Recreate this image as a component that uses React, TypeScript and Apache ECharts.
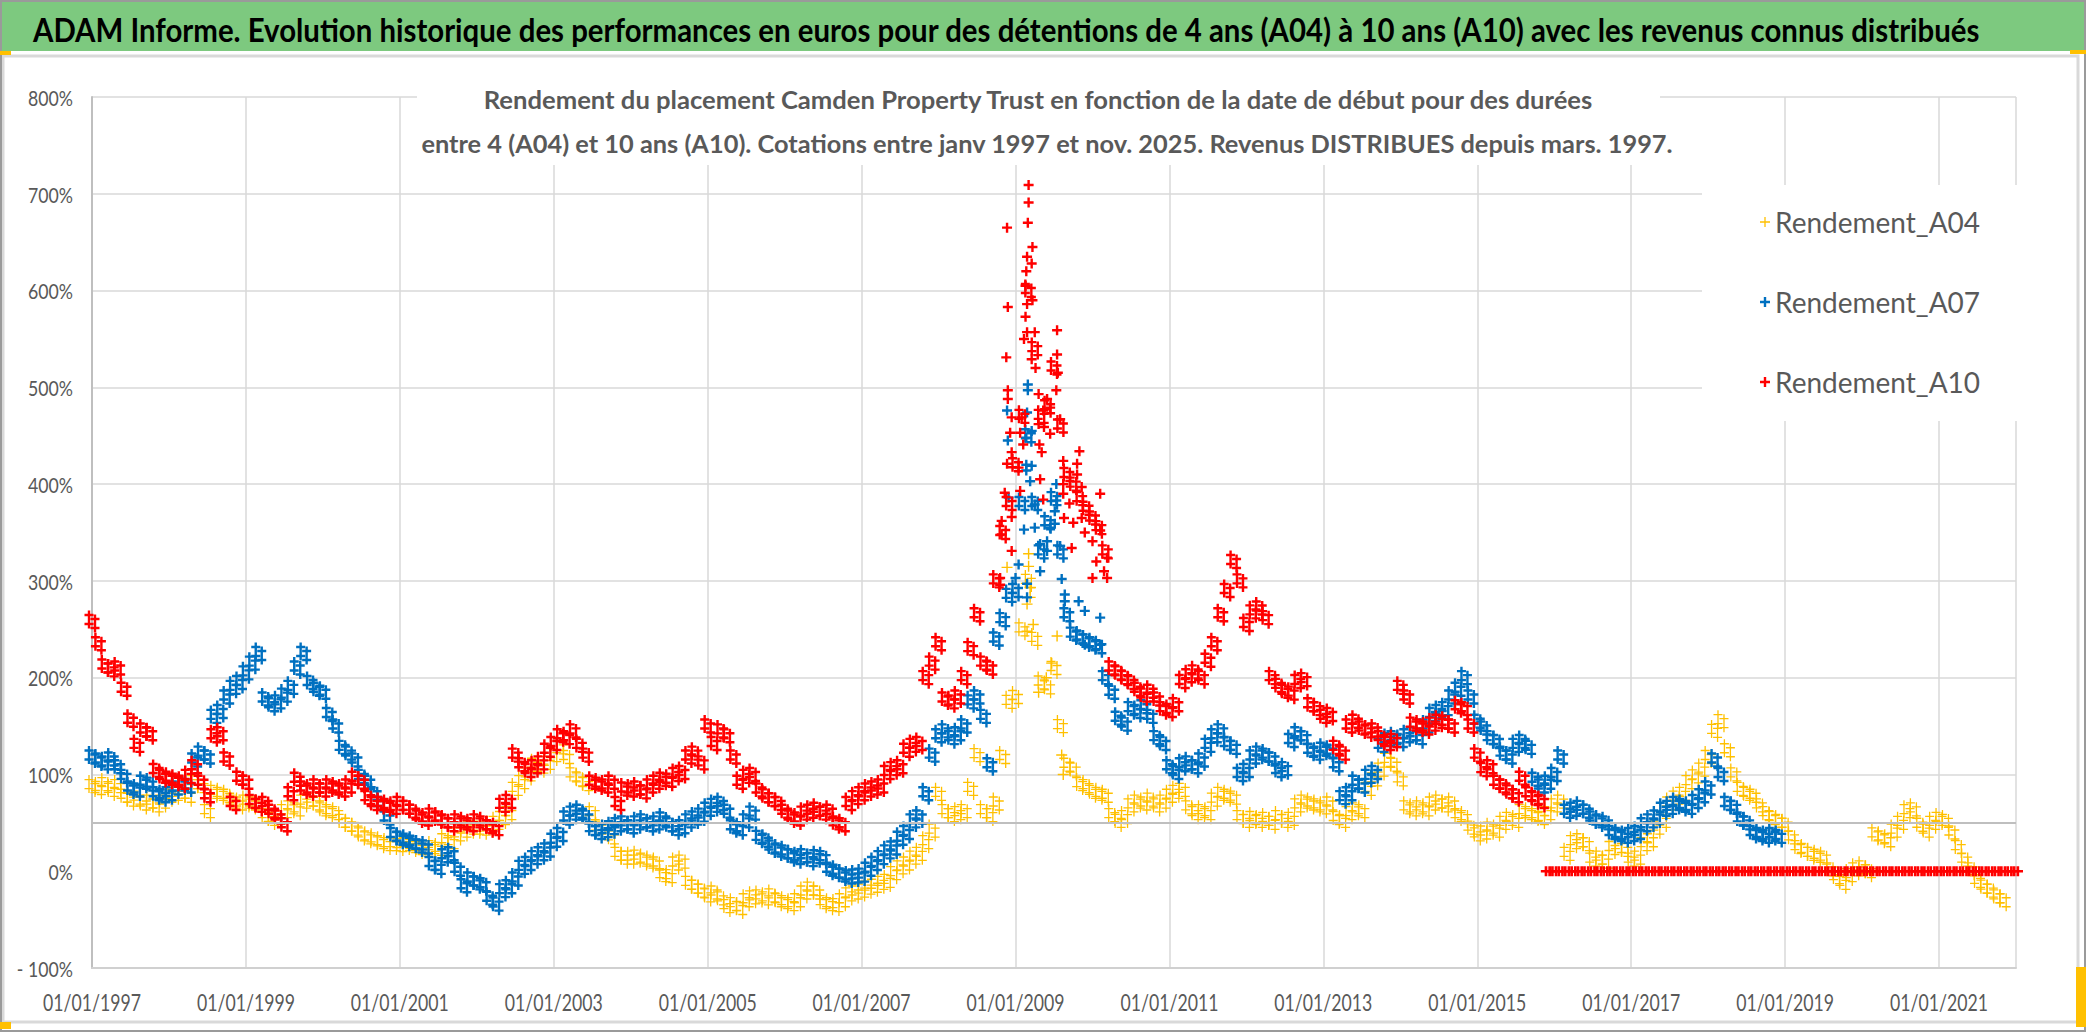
import React, { useEffect, useRef } from "react";
import * as echarts from "echarts";

const TITLE =
  "ADAM Informe. Evolution historique des performances en euros pour des détentions de 4 ans (A04) à 10 ans (A10) avec les revenus connus distribués";
const SUBTITLE_1 =
  "Rendement du placement Camden Property Trust en fonction de la date de début pour des durées";
const SUBTITLE_2 =
  "entre 4 (A04) et 10 ans (A10). Cotations entre janv 1997 et nov. 2025. Revenus DISTRIBUES depuis mars. 1997.";
const SERIES_NAMES = ["Rendement_A04", "Rendement_A07", "Rendement_A10"];
const SERIES_COLORS = ["#FFC000", "#0070C0", "#FF0000"];
const START_YEAR = 1997;
const X_TICK_YEARS = [1997, 1999, 2001, 2003, 2005, 2007, 2009, 2011, 2013, 2015, 2017, 2019, 2021];
const Y_TICKS = [-100, 0, 100, 200, 300, 400, 500, 600, 700, 800];
const REFERENCE_LINE = 50;

// Monthly readings (first value = January 1997), in %
const a04Monthly = [
  88, 86, 90, 84, 88, 78, 74, 76, 70, 72, 68, 72,
  78, 80, 82, 78, 92, 88, 62, 82, 80, 78, 72, 70,
  72, 70, 68, 58, 54, 56, 62, 66, 64, 72, 74, 70,
  64, 62, 60, 52, 48, 44, 38, 35, 33, 30, 28, 28,
  27, 28, 26, 24, 22, 25, 23, 32, 30, 38, 42, 45,
  45, 44, 46, 50, 55, 60, 85, 92, 100, 110, 108, 112,
  120, 128, 118, 100, 95, 90, 60, 45, 42, 35, 18, 14,
  14, 15, 12, 10, 8, -4, -5, 8, 10, -12, -16, -20,
  -25, -22, -28, -36, -34, -38, -30, -27, -26, -28, -25, -30,
  -32, -34, -30, -22, -18, -22, -32, -34, -35, -30, -24, -22,
  -20, -17, -15, -12, -10, -2, 4, 8, 14, 18, 30, 42,
  80, 62, 58, 60, 62, 85, 120, 62, 58, 70, 118, 175,
  180, 250, 300, 240, 195, 190, 210, 150, 110, 105, 90, 88,
  82, 80, 78, 58, 52, 56, 68, 72, 70, 74, 68, 72,
  78, 82, 84, 66, 60, 62, 60, 74, 80, 78, 76, 56,
  52, 55, 52, 54, 50, 56, 52, 54, 68, 72, 70, 68,
  66, 70, 55, 52, 60, 64, 62, 85, 95, 105, 115, 110,
  95, 66, 64, 66, 64, 70, 72, 68, 70, 58, 56, 45,
  38, 40, 44, 42, 50, 54, 52, 62, 60, 58, 55, 60,
  68, 72, 18, 30, 32, 28, 12, 14, 10, 24, 26, 22,
  12, 14, 28, 32, 45, 52, 70, 76, 80, 92, 98, 105,
  118, 145, 155, 125, 100, 85, 80, 78, 68, 60, 55, 52,
  48, 35, 25, 22, 18, 16, 14, 2, -6, -12, -4, 2,
  4, 0, 38, 35, 32, 42, 50, 62, 64, 48, 42, 50,
  54, 52, 40, 25, 12, 2, -10, -16, -20, -26, -30,
];

const a07Monthly = [
  118, 115, 112, 116, 108, 98, 86, 84, 92, 90, 80, 78,
  80, 86, 90, 88, 115, 122, 118, 160, 165, 180, 190, 195,
  205, 215, 225, 178, 172, 175, 182, 190, 210, 225, 195, 188,
  185, 162, 150, 128, 122, 115, 98, 92, 80, 70, 55, 38,
  34, 32, 30, 26, 25, 8, 4, 16, 18, 2, -15, -8,
  -12, -14, -28, -34, -20, -16, -8, 4, 8, 14, 18, 22,
  32, 38, 55, 60, 62, 56, 44, 40, 42, 45, 48, 50,
  46, 50, 52, 48, 50, 54, 48, 44, 46, 52, 55, 58,
  64, 68, 70, 62, 46, 44, 52, 60, 35, 32, 25, 22,
  20, 16, 14, 16, 12, 15, 14, 2, 0, -4, -6, -5,
  -4, 2, 8, 14, 20, 24, 34, 40, 52, 56, 80, 120,
  140, 145, 138, 142, 150, 175, 180, 160, 110, 240, 260, 285,
  290, 380, 450, 380, 330, 360, 385, 330, 265, 245, 242, 238,
  235, 232, 200, 185, 158, 152, 168, 165, 170, 160, 138, 132,
  108, 102, 110, 112, 108, 115, 130, 140, 145, 132, 128, 100,
  104, 118, 122, 120, 116, 104, 106, 135, 142, 138, 125, 122,
  126, 124, 110, 76, 80, 92, 88, 98, 102, 130, 136, 138,
  135, 140, 142, 138, 150, 162, 165, 168, 180, 188, 200, 180,
  155, 148, 138, 134, 122, 118, 130, 134, 128, 95, 88, 92,
  100, 118, 62, 64, 66, 62, 55, 52, 50, 40, 38, 36,
  38, 40, 48, 52, 56, 64, 66, 70, 68, 66, 72, 78,
  86, 115, 100, 70, 66, 54, 50, 40, 38, 36, 38, 36,
];

// A10 readings from January 1997 to November 2015
const a10Monthly = [
  258, 235, 212, 208, 210, 188, 156, 130, 146, 142, 104, 98,
  96, 94, 92, 98, 108, 92, 78, 140, 142, 116, 70, 96,
  92, 72, 68, 70, 62, 56, 48, 80, 95, 86, 84, 88,
  84, 88, 86, 84, 88, 96, 92, 76, 70, 70, 68, 66,
  70, 66, 62, 56, 54, 58, 55, 52, 48, 52, 50, 48,
  52, 50, 46, 44, 68, 72, 120, 110, 104, 108, 112, 125,
  132, 140, 138, 145, 130, 120, 92, 90, 88, 92, 70, 85,
  84, 86, 82, 88, 92, 95, 94, 100, 102, 118, 122, 112,
  150, 132, 145, 140, 118, 92, 98, 100, 84, 78, 74, 70,
  62, 56, 54, 60, 62, 64, 60, 62, 50, 48, 70, 76,
  80, 84, 86, 88, 102, 106, 108, 125, 130, 132, 200, 215,
  235, 178, 175, 180, 200, 230, 265, 215, 210, 300, 350, 380,
  420, 470, 600, 540, 470, 480, 520, 460, 410, 400, 385, 375,
  365, 355, 330, 210, 205, 200, 195, 188, 182, 186, 178, 168,
  166, 172, 196, 202, 206, 200, 218, 235, 265, 290, 320, 300,
  255, 268, 272, 262, 200, 192, 186, 184, 196, 198, 172, 168,
  160, 162, 128, 122, 150, 155, 148, 145, 146, 138, 132, 135,
  190, 180, 152, 150, 148, 152, 155, 154, 150, 170, 168, 150,
  120, 105, 108, 92, 88, 82, 78, 96, 80, 75, 72,
];
// A10 readings from December 2015 to January 2022 (flat at 0 %)
const A10_ZERO_START = 2015 + 11 / 12;
const a10ZeroMonthly = [
  0,
  0, 0, 0, 0, 0, 0, 0, 0, 0, 0, 0, 0,
  0, 0, 0, 0, 0, 0, 0, 0, 0, 0, 0, 0,
  0, 0, 0, 0, 0, 0, 0, 0, 0, 0, 0, 0,
  0, 0, 0, 0, 0, 0, 0, 0, 0, 0, 0, 0,
  0, 0, 0, 0, 0, 0, 0, 0, 0, 0, 0, 0,
  0, 0, 0, 0, 0, 0, 0, 0, 0, 0, 0, 0,
  0,
];

// Scattered readings around the 2009 peak: [decimal year, %]
const a04Peak = [
  [2009.17, 328], [2009.17, 315], [2008.89, 314], [2009.19, 293], [2009.19, 283],
  [2009.15, 276], [2009.15, 248], [2009.23, 255], [2009.54, 243], [2009.4, 200],
  [2009.3, 185], [2009.47, 215], [2009.6, 120], [2009.62, 100],
];
const a07Peak = [
  [2009.16, 503], [2009.16, 497], [2009.15, 474], [2008.89, 476], [2009.21, 455],
  [2008.9, 445], [2009.14, 448], [2009.14, 420], [2009.14, 414], [2009.21, 419],
  [2009.19, 403], [2009.53, 400], [2009.53, 383], [2009.25, 379], [2008.91, 386],
  [2009.51, 372], [2009.51, 359], [2009.11, 353], [2009.25, 355], [2009.45, 355],
  [2009.58, 336], [2009.32, 338], [2009.32, 310], [2009.41, 341], [2009.41, 331],
  [2009.04, 317], [2009.0, 303], [2009.6, 302], [2009.15, 297], [2009.15, 283],
  [2009.64, 286], [2009.64, 279], [2009.82, 279], [2009.9, 269], [2009.9, 234],
  [2010.1, 262], [2010.1, 234],
];
const a10Peak = [
  [2009.17, 709], [2009.17, 691], [2009.16, 670], [2008.89, 665], [2009.22, 645],
  [2009.15, 635], [2009.21, 628], [2009.14, 620], [2009.13, 605], [2008.9, 583],
  [2009.15, 586], [2009.22, 590], [2009.13, 573], [2009.54, 559], [2009.15, 557],
  [2009.25, 557], [2009.11, 550], [2008.88, 531], [2009.21, 529], [2009.26, 520],
  [2009.54, 534], [2009.55, 515], [2009.53, 497], [2008.9, 497], [2008.9, 488],
  [2009.3, 493], [2009.41, 488], [2009.36, 476], [2009.37, 459], [2009.45, 479],
  [2009.45, 452], [2009.58, 467], [2008.95, 469], [2009.08, 469], [2008.93, 453],
  [2009.06, 453], [2009.3, 462], [2009.31, 441], [2009.1, 441], [2009.34, 433],
  [2008.95, 433], [2009.83, 434], [2008.89, 421], [2009.04, 417], [2009.32, 405],
  [2009.62, 424], [2009.62, 400], [2009.8, 421], [2009.8, 410], [2009.06, 393],
  [2009.36, 384], [2008.86, 391], [2009.62, 390], [2009.63, 365], [2009.86, 397],
  [2009.86, 365], [2010.1, 390], [2010.1, 352], [2008.82, 362], [2008.82, 348],
  [2008.95, 366], [2008.95, 331], [2009.73, 334], [2010.0, 341], [2010.0, 303],
  [2010.19, 324], [2010.19, 303], [2008.8, 303], [2008.8, 296], [2009.7, 380],
  [2009.75, 360], [2009.9, 350], [2010.05, 320], [2010.15, 310],
];

// marker glyphs: a single "+" and clusters of "+" (daily-quote texture)
const plus = (cx: number, cy: number, half: number, arm: number) => {
  const a = arm / 2;
  return (
    `M${cx - a},${cy - half}H${cx + a}V${cy - a}H${cx + half}V${cy + a}H${cx + a}` +
    `V${cy + half}H${cx - a}V${cy + a}H${cx - half}V${cy - a}H${cx - a}Z`
  );
};
const PLUS_THIN = "path://" + plus(5, 5, 5, 1.3);
const PLUS_BOLD = "path://" + plus(5, 5, 5, 2.4);
const CLUSTER_BOLD =
  "path://" + plus(4.5, 4.5, 4.5, 2.4) + plus(10.5, 8.5, 4.5, 2.4) + plus(4.5, 13.5, 4.5, 2.4) + plus(10.5, 17.5, 4.5, 2.4);
const CLUSTER_THIN =
  "path://" + plus(4.5, 4.5, 4.5, 1.3) + plus(10.5, 8.5, 4.5, 1.3) + plus(4.5, 13.5, 4.5, 1.3) + plus(10.5, 17.5, 4.5, 1.3);
const ROW_BOLD = "path://" + plus(5, 5, 5, 2.6) + plus(8.5, 5, 5, 2.6);

const monthlyPoints = (monthly: number[], startYear: number) =>
  monthly.map((v, i) => [startYear - START_YEAR + i / 12, v]);
const peakPoints = (peak: number[][]) => peak.map(([y, v]) => [y - START_YEAR, v]);

export default function App() {
  const ref = useRef<HTMLDivElement>(null);
  useEffect(() => {
    if (!ref.current) return;
    const chart = echarts.init(ref.current, undefined, { renderer: "svg" });
    const FONT = "Lato";
    const yLineColors = Y_TICKS.map((t) => (t === 0 ? "rgba(0,0,0,0)" : "#d9d9d9"));
    const scatter = (k: number, data: number[][], symbol: string, size: any) => ({
      name: SERIES_NAMES[k],
      type: "scatter",
      data,
      symbol,
      symbolSize: size,
      itemStyle: { color: SERIES_COLORS[k], opacity: 1 },
      z: 2 + k,
      silent: true,
    });
    const option: any = {
      animation: false,
      backgroundColor: "#ffffff",
      grid: { left: 92, right: 70, top: 97, bottom: 64 },
      xAxis: {
        type: "value",
        min: 0,
        max: 25,
        interval: 2,
        axisLabel: { show: false },
        axisTick: { show: false },
        axisLine: { show: true, onZero: false, lineStyle: { color: "#d0d0d0", width: 2 } },
        splitLine: { show: true, lineStyle: { color: "#d9d9d9", width: 1.5 } },
      },
      yAxis: {
        type: "value",
        min: -100,
        max: 800,
        interval: 100,
        axisLabel: { show: false },
        axisTick: { show: false },
        axisLine: { show: true, lineStyle: { color: "#bfbfbf", width: 2 } },
        splitLine: { show: true, lineStyle: { color: yLineColors, width: 1.5 } },
      },
      legend: {
        data: [
          { name: SERIES_NAMES[0], icon: PLUS_THIN },
          { name: SERIES_NAMES[1], icon: PLUS_BOLD },
          { name: SERIES_NAMES[2], icon: PLUS_BOLD },
        ],
        orient: "vertical",
        left: 1702,
        top: 185,
        padding: [22, 50, 24, 58],
        itemGap: 50,
        itemWidth: 10,
        itemHeight: 10,
        backgroundColor: "#ffffff",
        textStyle: { fontFamily: FONT, fontSize: 28, color: "#595959", lineHeight: 30 },
      },
      series: [
        {
          name: "ref50",
          type: "scatter",
          data: [],
          z: 1,
          silent: true,
          markLine: {
            silent: true,
            symbol: ["none", "none"],
            label: { show: false },
            lineStyle: { color: "#bfbfbf", width: 2, type: "solid" },
            data: [{ yAxis: REFERENCE_LINE }],
          },
        },
        scatter(0, monthlyPoints(a04Monthly, START_YEAR), CLUSTER_THIN, [15, 22]),
        scatter(0, peakPoints(a04Peak), PLUS_THIN, 11),
        scatter(1, monthlyPoints(a07Monthly, START_YEAR), CLUSTER_BOLD, [15, 22]),
        scatter(1, peakPoints(a07Peak), PLUS_BOLD, 10),
        scatter(2, monthlyPoints(a10Monthly, START_YEAR), CLUSTER_BOLD, [15, 22]),
        scatter(2, peakPoints(a10Peak), PLUS_BOLD, 10),
        scatter(2, monthlyPoints(a10ZeroMonthly, A10_ZERO_START), ROW_BOLD, [14, 10]),
      ],
    };
    chart.setOption(option);

    const ctx = document.createElement("canvas").getContext("2d")!;
    const measure = (t: string, font: string) => {
      ctx.font = font;
      return ctx.measureText(t).width || 1;
    };
    const titleScale = 1948 / measure(TITLE, `bold 33px ${FONT}`);
    const sub1Scale = 1111 / measure(SUBTITLE_1, `bold 24px ${FONT}`);
    const sub2Scale = 1252 / measure(SUBTITLE_2, `bold 24px ${FONT}`);
    const xLabScale = 98 / measure("01/01/1997", `23px ${FONT}`);
    const yLabScale = 45 / measure("800%", `22px ${FONT}`);

    const elements: any[] = [
      { type: "rect", z: 0, silent: true, shape: { x: 2, y: 2, width: 2082, height: 49 }, style: { fill: "#7DC97F" } },
      { type: "rect", z: 0, silent: true, shape: { x: 3, y: 56, width: 2075, height: 966 }, style: { fill: "none", stroke: "#d9d9d9", lineWidth: 3 } },
      { type: "rect", z: 10, silent: true, shape: { x: 1, y: 1, width: 2084, height: 1030 }, style: { fill: "none", stroke: "#9a9a9a", lineWidth: 2 } },
      { type: "rect", z: 11, silent: true, shape: { x: 0, y: 51, width: 11, height: 4 }, style: { fill: "#FFC000" } },
      { type: "rect", z: 11, silent: true, shape: { x: 0, y: 1022, width: 11, height: 7 }, style: { fill: "#FFC000" } },
      { type: "rect", z: 11, silent: true, shape: { x: 2076, y: 967, width: 10, height: 60 }, style: { fill: "#FFC000" } },
      { type: "rect", z: 11, silent: true, shape: { x: 2070, y: 50, width: 16, height: 4 }, style: { fill: "#FFC000" } },
      {
        type: "text", z: 12, silent: true, x: 33, y: 29, scaleX: titleScale,
        style: { text: TITLE, fontFamily: FONT, fontWeight: "bold", fontSize: 33, fill: "#000000", align: "left", verticalAlign: "middle" },
      },
      { type: "rect", z: 3, silent: true, shape: { x: 417, y: 75, width: 1243, height: 90 }, style: { fill: "#ffffff" } },
      {
        type: "text", z: 4, silent: true, x: 1038, y: 100, scaleX: sub1Scale,
        style: { text: SUBTITLE_1, fontFamily: FONT, fontWeight: "bold", fontSize: 24, fill: "#595959", align: "center", verticalAlign: "middle" },
      },
      {
        type: "text", z: 4, silent: true, x: 1047, y: 144, scaleX: sub2Scale,
        style: { text: SUBTITLE_2, fontFamily: FONT, fontWeight: "bold", fontSize: 24, fill: "#595959", align: "center", verticalAlign: "middle" },
      },
    ];
    X_TICK_YEARS.forEach((yr) => {
      const px = chart.convertToPixel({ xAxisIndex: 0 } as any, yr - START_YEAR) as number;
      elements.push({
        type: "text", z: 4, silent: true, x: px, y: 1002, scaleX: xLabScale,
        style: { text: `01/01/${yr}`, fontFamily: FONT, fontSize: 23, fill: "#595959", align: "center", verticalAlign: "middle" },
      });
    });
    Y_TICKS.forEach((v) => {
      const py = chart.convertToPixel({ yAxisIndex: 0 } as any, v) as number;
      const label = v < 0 ? `- ${-v}%` : `${v}%`;
      elements.push({
        type: "text", z: 4, silent: true, x: 73, y: py, scaleX: yLabScale,
        style: { text: label, fontFamily: FONT, fontSize: 22, fill: "#595959", align: "right", verticalAlign: "middle" },
      });
    });
    chart.setOption({ graphic: { elements } });
    return () => chart.dispose();
  }, []);
  return (
    <div
      ref={ref}
      style={{ position: "absolute", left: 0, top: 0, width: 2086, height: 1032, background: "#fff" }}
    />
  );
}
